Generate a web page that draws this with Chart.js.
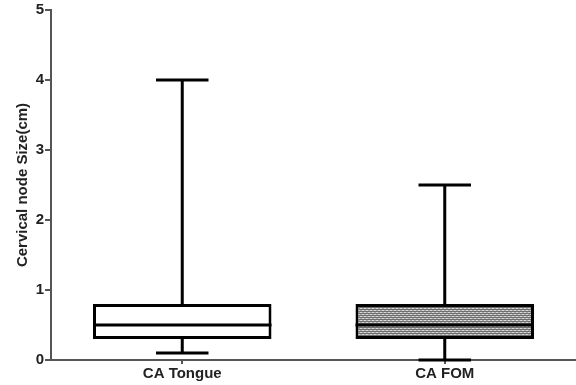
<!DOCTYPE html>
<html>
<head>
<meta charset="utf-8">
<script src="https://cdn.jsdelivr.net/npm/chart.js@4/dist/chart.umd.min.js"></script>
<style>
  html, body { margin: 0; padding: 0; background: #fff; }
</style>
</head>
<body>
<canvas id="chart" width="576" height="385"></canvas>
<script>
// ---- data ----
const groups = ['CA Tongue', 'CA FOM'];
const mins = [0.1, 0.0];
const q1s = [0.3, 0.3];
const medians = [0.5, 0.5];
const q3s = [0.8, 0.8];
const maxes = [4.0, 2.5];
const yTicks = [0, 1, 2, 3, 4, 5];

// dotted grey fill for the second box
function makePattern() {
  const c = document.createElement('canvas');
  c.width = 4; c.height = 4;
  const g = c.getContext('2d');
  g.fillStyle = '#6e6e6e';
  g.fillRect(0, 0, 4, 4);
  g.fillStyle = '#d8d8d8';
  g.fillRect(0, 0, 2, 1);
  g.fillRect(2, 2, 2, 1);
  g.fillStyle = '#a8a8a8';
  g.fillRect(2, 0, 2, 1);
  g.fillRect(0, 2, 2, 1);
  return g.createPattern(c, 'repeat');
}

// whiskers, caps and median lines drawn from the scales
const whiskerPlugin = {
  id: 'whiskers',
  afterDatasetsDraw(chart) {
    const ctx = chart.ctx;
    const x = chart.scales.x;
    const y = chart.scales.y;
    const capHalf = x.width / groups.length * 0.1;
    const boxHalf = x.width / groups.length * 0.68 / 2;
    ctx.save();
    ctx.strokeStyle = '#000';
    ctx.lineWidth = 3;
    groups.forEach((g, i) => {
      const cx = x.getPixelForValue(i);
      ctx.beginPath();
      ctx.moveTo(cx, y.getPixelForValue(q3s[i]));
      ctx.lineTo(cx, y.getPixelForValue(maxes[i]));
      ctx.moveTo(cx, y.getPixelForValue(q1s[i]));
      ctx.lineTo(cx, y.getPixelForValue(mins[i]));
      ctx.moveTo(cx - capHalf, y.getPixelForValue(maxes[i]));
      ctx.lineTo(cx + capHalf, y.getPixelForValue(maxes[i]));
      ctx.moveTo(cx - capHalf, y.getPixelForValue(mins[i]));
      ctx.lineTo(cx + capHalf, y.getPixelForValue(mins[i]));
      ctx.moveTo(cx - boxHalf, y.getPixelForValue(medians[i]));
      ctx.lineTo(cx + boxHalf, y.getPixelForValue(medians[i]));
      ctx.stroke();
    });
    ctx.restore();
  }
};

const boxes = groups.map((g, i) => [q1s[i], q3s[i]]);
const labelFont = { family: 'Arial, Liberation Sans', size: 15, weight: 'bold' };

new Chart(document.getElementById('chart'), {
  type: 'bar',
  data: {
    labels: groups,
    datasets: [{
      data: boxes,
      backgroundColor: ['#ffffff', makePattern()],
      borderColor: '#000',
      borderWidth: 3,
      borderSkipped: false,
      categoryPercentage: 1,
      barPercentage: 0.68
    }]
  },
  options: {
    responsive: false,
    animation: false,
    layout: { padding: { top: 10, right: 0, bottom: 0, left: 0 } },
    plugins: {
      legend: { display: false },
      tooltip: { enabled: false }
    },
    scales: {
      x: {
        offset: true,
        grid: { display: true, drawOnChartArea: false, drawTicks: true, tickLength: 4, offset: false, color: '#555', lineWidth: 2 },
        border: { display: true, color: '#555', width: 2 },
        ticks: { color: '#222', font: labelFont, padding: 1 },
        afterFit(scale) { scale.height = 25; }
      },
      y: {
        min: 0,
        max: 5,
        afterBuildTicks(scale) { scale.ticks = yTicks.map(v => ({ value: v })); },
        grid: { display: true, drawOnChartArea: false, drawTicks: true, tickLength: 6, color: '#555', lineWidth: 2 },
        border: { display: true, color: '#555', width: 2 },
        ticks: { color: '#222', font: labelFont, padding: 1 },
        title: {
          display: true,
          text: 'Cervical node Size(cm)',
          color: '#222',
          font: labelFont,
          padding: { top: 14, bottom: 4 }
        },
        afterFit(scale) { scale.width = 51; }
      }
    }
  },
  plugins: [whiskerPlugin]
});
</script>
</body>
</html>
